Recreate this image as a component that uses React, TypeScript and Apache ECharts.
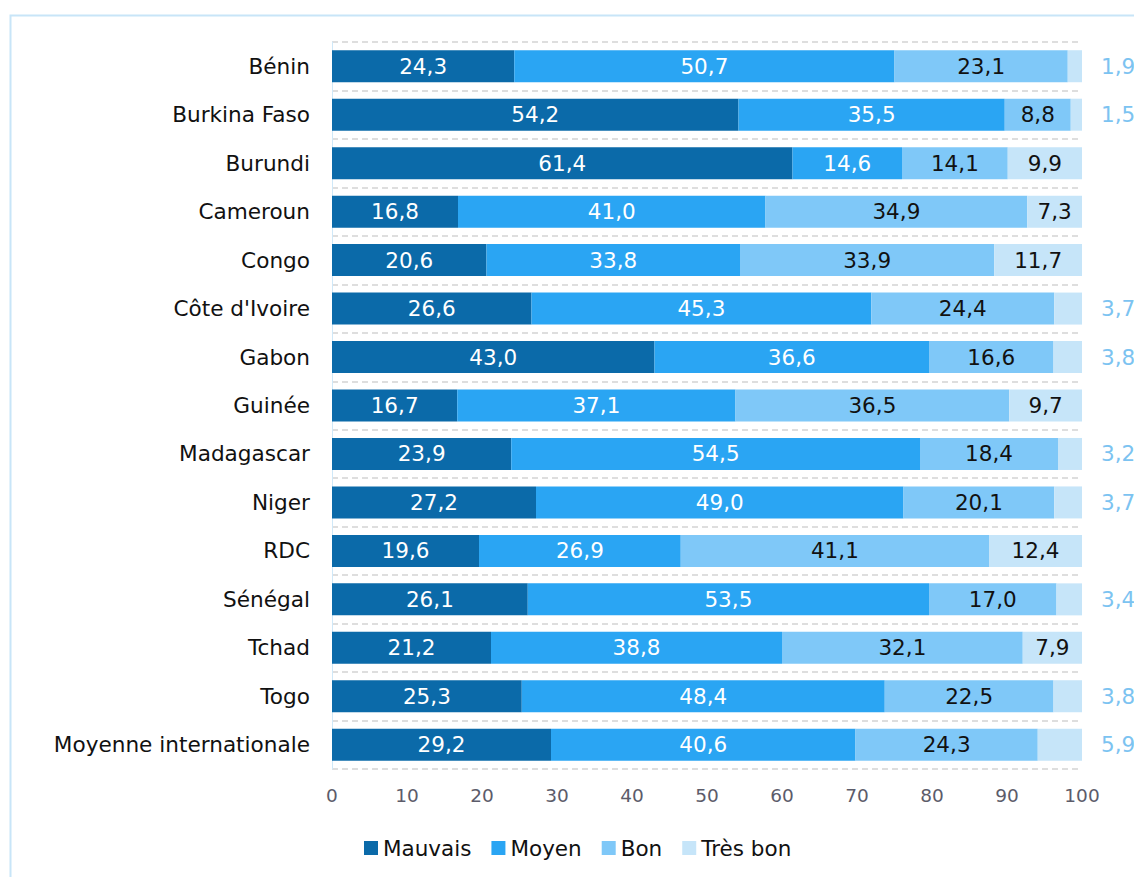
import React, { useEffect, useRef } from "react";
import * as echarts from "echarts";

const categories = [
  "Bénin", "Burkina Faso", "Burundi", "Cameroun", "Congo", "Côte d'Ivoire", "Gabon",
  "Guinée", "Madagascar", "Niger", "RDC", "Sénégal", "Tchad", "Togo", "Moyenne internationale",
];
const mauvais = [24.3, 54.2, 61.4, 16.8, 20.6, 26.6, 43.0, 16.7, 23.9, 27.2, 19.6, 26.1, 21.2, 25.3, 29.2];
const moyen = [50.7, 35.5, 14.6, 41.0, 33.8, 45.3, 36.6, 37.1, 54.5, 49.0, 26.9, 53.5, 38.8, 48.4, 40.6];
const bon = [23.1, 8.8, 14.1, 34.9, 33.9, 24.4, 16.6, 36.5, 18.4, 20.1, 41.1, 17.0, 32.1, 22.5, 24.3];
const tresBon = [1.9, 1.5, 9.9, 7.3, 11.7, 3.7, 3.8, 9.7, 3.2, 3.7, 12.4, 3.4, 7.9, 3.8, 5.9];
const seriesNames = ["Mauvais", "Moyen", "Bon", "Très bon"];
const xTicks = { min: 0, max: 100, interval: 10 };

const colors = ["#0b6aa9", "#2aa5f3", "#7fc8f8", "#c6e5f9"];
const FONT = "DejaVu Sans";

const fmt = (v: number) => v.toFixed(1).replace(".", ",");

export default function App() {
  const ref = useRef<HTMLDivElement>(null);
  useEffect(() => {
    if (!ref.current) return;
    const chart = echarts.init(ref.current, undefined, { renderer: "svg" });
    const labelColors = ["#ffffff", "#ffffff", "#111111"];
    const allData = [mauvais, moyen, bon];
    const series: any[] = allData.map((arr, i) => ({
      name: seriesNames[i],
      type: "bar",
      stack: "total",
      barWidth: 32,
      itemStyle: { color: colors[i] },
      label: {
        show: true,
        position: "inside",
        color: labelColors[i],
        fontFamily: FONT,
        fontSize: 21.5,
        formatter: (p: any) => fmt(p.value),
      },
      data: arr,
    }));
    series.push({
      name: seriesNames[3],
      type: "bar",
      stack: "total",
      barWidth: 32,
      itemStyle: { color: colors[3] },
      label: {
        show: true,
        position: "inside",
        color: "#111111",
        fontFamily: FONT,
        fontSize: 21.5,
        formatter: (p: any) => fmt(p.value),
      },
      data: tresBon.map((v) =>
        v < 7
          ? {
              value: v,
              label: {
                position: "right",
                distance: 19,
                color: "#7cc3f1",
              },
            }
          : v
      ),
    });
    chart.setOption({
      animation: false,
      textStyle: { fontFamily: FONT },
      graphic: [
        {
          type: "rect",
          left: 8,
          top: 13,
          shape: { width: 1300, height: 1000 },
          style: { fill: "none", stroke: "#c8e5f8", lineWidth: 2 },
          silent: true,
        },
      ],
      grid: { left: 332, right: 52, top: 42, bottom: 108 },
      xAxis: {
        type: "value",
        min: xTicks.min,
        max: xTicks.max,
        interval: xTicks.interval,
        axisLine: { show: false },
        axisTick: { show: false },
        splitLine: { show: false },
        axisLabel: { color: "#5c5c6a", fontSize: 18.5, fontFamily: FONT, margin: 17 },
      },
      yAxis: {
        type: "category",
        inverse: true,
        data: categories,
        axisLine: { show: true, lineStyle: { color: "#cfe8f8", width: 1 } },
        axisTick: { show: false },
        axisLabel: { color: "#111111", fontSize: 21.6, fontFamily: FONT, margin: 22 },
        splitLine: { show: true, lineStyle: { color: "#d3d3d3", type: [6, 4], width: 1.5 } },
      },
      legend: {
        left: 359,
        top: 832,
        icon: "rect",
        itemWidth: 14,
        itemHeight: 14,
        itemGap: 20,
        textStyle: { color: "#111111", fontSize: 21.5, fontFamily: FONT },
        data: seriesNames,
      },
      series,
    });
    return () => chart.dispose();
  }, []);
  return (
    <div
      ref={ref}
      style={{ position: "absolute", left: 0, top: 0, width: 1134, height: 877, background: "#fff" }}
    />
  );
}
